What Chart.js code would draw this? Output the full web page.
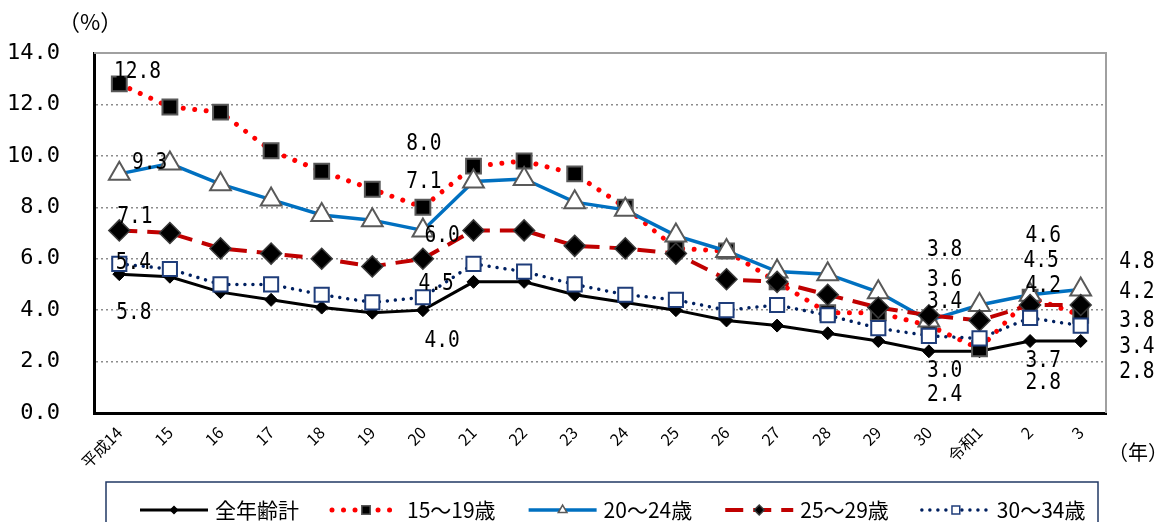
<!DOCTYPE html>
<html lang="ja">
<head>
<meta charset="UTF-8">
<title>年齢階級別完全失業率</title>
<style>
  * { margin: 0; padding: 0; }
  body { background: #fff; width: 1166px; height: 522px; overflow: hidden; }
  canvas { display: block; }
</style>
</head>
<body>
<canvas id="chart" width="1166" height="522"></canvas>
<script src="https://cdn.jsdelivr.net/npm/chart.js@4/dist/chart.umd.min.js"></script>
<script>
// categories (years)
const years = ['平成14', '15', '16', '17', '18', '19', '20', '21', '22', '23', '24', '25', '26', '27', '28', '29', '30', '令和1', '2', '3'];

// series values (%)
const allAges = [5.4, 5.3, 4.7, 4.4, 4.1, 3.9, 4.0, 5.1, 5.1, 4.6, 4.3, 4.0, 3.6, 3.4, 3.1, 2.8, 2.4, 2.4, 2.8, 2.8];
const age15to19 = [12.8, 11.9, 11.7, 10.2, 9.4, 8.7, 8.0, 9.6, 9.8, 9.3, 8.0, 6.4, 6.3, 5.1, 3.9, 3.9, 3.4, 2.5, 4.5, 3.8];
const age20to24 = [9.3, 9.7, 8.9, 8.3, 7.7, 7.5, 7.1, 9.0, 9.1, 8.2, 7.9, 6.9, 6.3, 5.5, 5.4, 4.7, 3.6, 4.2, 4.6, 4.8];
const age25to29 = [7.1, 7.0, 6.4, 6.2, 6.0, 5.7, 6.0, 7.1, 7.1, 6.5, 6.4, 6.2, 5.2, 5.1, 4.6, 4.1, 3.8, 3.6, 4.2, 4.2];
const age30to34 = [5.8, 5.6, 5.0, 5.0, 4.6, 4.3, 4.5, 5.8, 5.5, 5.0, 4.6, 4.4, 4.0, 4.2, 3.8, 3.3, 3.0, 2.9, 3.7, 3.4];

// y axis ticks
const yMin = 0, yMax = 14, yStep = 2;

// value labels as printed in the chart: text, category position, value position
const labelTexts = ['12.8', '9.3', '7.1', '5.4', '5.8',
                    '8.0', '7.1', '6.0', '4.5', '4.0',
                    '3.8', '3.6', '3.4', '3.0', '2.4',
                    '4.6', '4.5', '4.2', '3.7', '2.8',
                    '4.8', '4.2', '3.8', '3.4', '2.8'];
const labelCats = [0.36, 0.6, 0.31, 0.28, 0.29,
                   6.02, 6.02, 6.38, 6.26, 6.38,
                   16.31, 16.31, 16.31, 16.31, 16.31,
                   18.26, 18.22, 18.26, 18.26, 18.26,
                   20.11, 20.11, 20.11, 20.11, 20.11];
const labelVals = [13.27, 9.71, 7.63, 5.82, 3.87,
                   10.47, 8.99, 6.89, 5.02, 2.80,
                   6.34, 5.18, 4.30, 1.65, 0.70,
                   6.89, 5.91, 4.94, 2.02, 1.15,
                   5.88, 4.71, 3.58, 2.55, 1.58];

const numFont = '"DejaVu Sans Mono", "Liberation Mono", monospace';
const jpFont = '"Noto Sans CJK JP", "Noto Sans", sans-serif';

// grey frame on top and right of the plot
const frame = {
  id: 'frame',
  beforeDatasetsDraw(chart) {
    const { ctx, chartArea: a } = chart;
    ctx.save();
    ctx.strokeStyle = '#a0a0a0';
    ctx.lineWidth = 2;
    ctx.beginPath();
    ctx.moveTo(a.left, a.top);
    ctx.lineTo(a.right, a.top);
    ctx.lineTo(a.right, a.bottom);
    ctx.stroke();
    ctx.restore();
  }
};

// value labels + unit captions
const valueLabels = {
  id: 'valueLabels',
  afterDatasetsDraw(chart) {
    const { ctx, scales: { x, y } } = chart;
    ctx.save();
    ctx.fillStyle = '#000';
    ctx.font = '23px ' + numFont;
    ctx.textAlign = 'center';
    ctx.textBaseline = 'middle';
    labelTexts.forEach((t, i) => {
      const px = x.getPixelForValue(labelCats[i]);
      const py = y.getPixelForValue(labelVals[i]);
      ctx.save();
      ctx.translate(px, py);
      ctx.scale(0.85, 1);
      ctx.fillText(t, 0, 0);
      ctx.restore();
    });
    ctx.font = '22px ' + jpFont;
    ctx.textAlign = 'left';
    ctx.fillText('（%）', 58, 22);
    ctx.font = '20px ' + jpFont;
    ctx.fillText('（年）', 1108, 452);
    ctx.restore();
  }
};

// legend drawn as in the original: line sample with marker in the middle
const lineLegend = {
  id: 'lineLegend',
  afterDraw(chart) {
    const { ctx } = chart;
    const top = 482, cy = 510;
    ctx.save();
    ctx.strokeStyle = '#203864';
    ctx.lineWidth = 1.5;
    ctx.strokeRect(106, top, 992, 60);
    ctx.font = '21px ' + jpFont;
    ctx.textBaseline = 'middle';
    let x = 140;
    chart.data.datasets.forEach(ds => {
      ctx.save();
      ctx.strokeStyle = ds.borderColor;
      ctx.lineWidth = ds.borderWidth;
      ctx.lineCap = ds.borderCapStyle || 'butt';
      ctx.setLineDash(ds.borderDash || []);
      ctx.beginPath();
      ctx.moveTo(x, cy);
      ctx.lineTo(x + 68, cy);
      ctx.stroke();
      ctx.setLineDash([]);
      ctx.fillStyle = ds.pointBackgroundColor;
      ctx.strokeStyle = ds.pointBorderColor;
      ctx.lineWidth = 1.5;
      Chart.helpers.drawPoint(ctx, { pointStyle: ds.pointStyle, radius: ds.legendRadius, rotation: 0, borderWidth: 1.5 }, x + 34, cy);
      ctx.restore();
      ctx.fillStyle = '#000';
      ctx.fillText(ds.label, x + 75, cy);
      x += 75 + ctx.measureText(ds.label).width + 33;
    });
    ctx.restore();
  }
};

new Chart(document.getElementById('chart'), {
  type: 'line',
  data: {
    labels: years,
    datasets: [
      { label: '全年齢計', data: allAges, borderColor: '#000', borderWidth: 3,
        pointStyle: 'rectRot', pointRadius: 6.5, pointBackgroundColor: '#000', pointBorderColor: '#000', pointBorderWidth: 1,
        legendRadius: 3.5, order: 5 },
      { label: '15～19歳', data: age15to19, borderColor: '#ff0000', borderWidth: 5, borderDash: [0.01, 11.5], borderCapStyle: 'round',
        pointStyle: 'rect', pointRadius: 10.5, pointBackgroundColor: '#000', pointBorderColor: '#595959', pointBorderWidth: 2,
        legendRadius: 6, order: 4 },
      { label: '20～24歳', data: age20to24, borderColor: '#0070c0', borderWidth: 3.5,
        pointStyle: 'triangle', pointRadius: 12, pointBackgroundColor: '#fff', pointBorderColor: '#595959', pointBorderWidth: 2,
        legendRadius: 5, order: 3 },
      { label: '25～29歳', data: age25to29, borderColor: '#c00000', borderWidth: 4, borderDash: [18, 10],
        pointStyle: 'rectRot', pointRadius: 10.5, pointBackgroundColor: '#000', pointBorderColor: '#3a3a3a', pointBorderWidth: 1.5,
        legendRadius: 5, order: 2 },
      { label: '30～34歳', data: age30to34, borderColor: '#002060', borderWidth: 3.5, borderDash: [0.01, 8], borderCapStyle: 'round',
        pointStyle: 'rect', pointRadius: 10, pointBackgroundColor: '#fff', pointBorderColor: '#1f3d7a', pointBorderWidth: 2,
        legendRadius: 5.5, order: 1 }
    ]
  },
  options: {
    responsive: false,
    animation: false,
    events: [],
    layout: { padding: { left: 0, right: 60, top: 53, bottom: 39 } },
    elements: { line: { tension: 0 } },
    plugins: { legend: { display: false }, tooltip: { enabled: false } },
    scales: {
      x: {
        offset: true,
        grid: { display: false },
        border: { color: '#000', width: 3 },
        ticks: { autoSkip: false, maxRotation: 45, minRotation: 45, padding: 2, color: '#000', font: { family: jpFont, size: 16 } },
        afterFit(s) { s.height = 70; }
      },
      y: {
        min: yMin, max: yMax,
        grid: {
          drawTicks: false, lineWidth: 1.5,
          color: c => (c.tick && (c.tick.value === yMin || c.tick.value === yMax)) ? 'rgba(0,0,0,0)' : '#8c8c8c'
        },
        border: { color: '#000', width: 3, dash: [2, 3] },
        ticks: { stepSize: yStep, padding: 34, color: '#000', font: { family: numFont, size: 22 }, callback: v => v.toFixed(1) },
        afterFit(s) { s.width = 94; }
      }
    }
  },
  plugins: [frame, valueLabels, lineLegend]
});
</script>
</body>
</html>
